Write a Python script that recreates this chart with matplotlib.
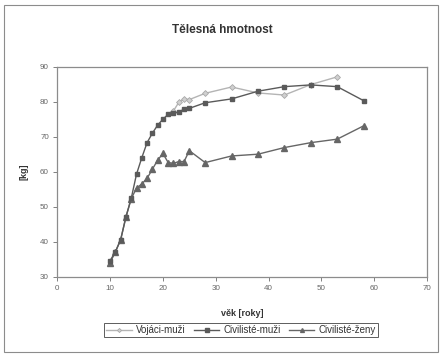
import matplotlib
matplotlib.use("Agg")
import matplotlib.pyplot as plt
from matplotlib.patches import Rectangle

plt.rcParams['font.family'] = ['Liberation Sans', 'DejaVu Sans']

# Body weight by age
vojaci_x = [22, 23, 24, 25, 28, 33, 38, 43, 48, 53]
vojaci_y = [77.4, 79.8, 80.8, 80.6, 82.4, 84.2, 82.5, 81.9, 84.9, 87.1]

civ_muzi_x = [10, 11, 12, 13, 14, 15, 16, 17, 18, 19, 20, 21, 22, 23, 24, 25, 28, 33, 38, 43, 48, 53, 58]
civ_muzi_y = [34.6, 37.1, 40.6, 47.1, 52.4, 59.3, 64.0, 68.3, 71.0, 73.3, 75.0, 76.4, 76.7, 77.0,
              77.9, 78.1, 79.7, 80.8, 83.0, 84.3, 84.8, 84.3, 80.3]

civ_zeny_x = [10, 11, 12, 13, 14, 15, 16, 17, 18, 19, 20, 21, 22, 23, 24, 25, 28, 33, 38, 43, 48, 53, 58]
civ_zeny_y = [34.0, 37.1, 40.6, 47.1, 52.3, 55.3, 56.5, 58.1, 60.7, 63.3, 65.2, 62.6, 62.4, 62.9,
              62.9, 66.0, 62.6, 64.5, 65.0, 66.9, 68.3, 69.3, 73.1]

x_ticks = [0, 10, 20, 30, 40, 50, 60, 70]
y_ticks = [30, 40, 50, 60, 70, 80, 90]

fig = plt.figure(figsize=(4.41, 3.57), dpi=100)
W, H = 441, 357

# outer chart frame
fig.patches.append(Rectangle((4 / W, 5 / H), 434 / W, 347 / H, transform=fig.transFigure,
                             fill=False, edgecolor='#8c8c8c', linewidth=0.8))

ax = fig.add_axes([57.3 / W, 1 - 276.7 / H, (427 - 57.3) / W, (276.7 - 66.7) / H])

ax.plot(vojaci_x, vojaci_y, color='#b4b4b4', lw=1.0, marker='D', ms=3.0,
        mfc='#d0d0d0', mec='#a8a8a8', mew=0.6, label='Vojáci-muži', zorder=3)
ax.plot(civ_muzi_x, civ_muzi_y, color='#5a5a5a', lw=1.0, marker='s', ms=3.4,
        mfc='#5a5a5a', mec='#5a5a5a', label='Civilisté-muži', zorder=4)
ax.plot(civ_zeny_x, civ_zeny_y, color='#666666', lw=1.0, marker='^', ms=4.0,
        mfc='#666666', mec='#666666', label='Civilisté-ženy', zorder=2)

ax.set_xlim(0, 70)
ax.set_ylim(30, 90)
ax.set_xticks(x_ticks)
ax.set_yticks(y_ticks)
ax.tick_params(axis='both', direction='out', length=3, width=0.7, color='#808080',
               labelsize=5.8, labelcolor='#666666', pad=3)
for s in ax.spines.values():
    s.set_color('#8c8c8c')
    s.set_linewidth(0.9)

ax.set_xlabel('věk [roky]', fontsize=6.5, fontweight='bold', color='#333333', labelpad=12)
ax.set_ylabel('[kg]', fontsize=6.5, fontweight='bold', color='#333333', labelpad=8)

fig.text(222 / W, 1 - 30 / H, 'Tělesná hmotnost', ha='center', va='center',
         fontsize=8.5, fontweight='bold', color='#333333')

leg = fig.legend(loc='center', bbox_to_anchor=(241 / W, 1 - 330 / H), ncol=3,
                 fontsize=7, frameon=True, fancybox=False, handlelength=2.6, markerscale=0.7,
                 columnspacing=0.9, handletextpad=0.4, borderpad=0.25, labelcolor='#333333')
leg.get_frame().set_edgecolor('#333333')
leg.get_frame().set_linewidth(0.7)

fig.savefig('out.png', dpi=100)
